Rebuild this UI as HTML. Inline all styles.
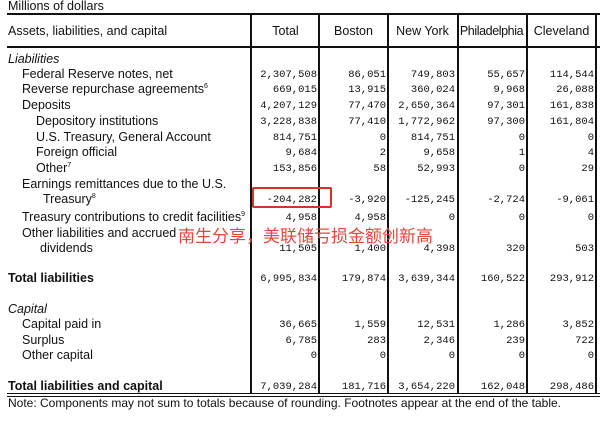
<!DOCTYPE html>
<html><head><meta charset="utf-8">
<style>
body{margin:0;width:600px;height:431px;background:#fff;position:relative;overflow:hidden;font-family:"Liberation Sans",sans-serif;color:#111}
.t{position:absolute;font-size:12.5px;white-space:nowrap;line-height:14px}
.t sup{font-size:7px;line-height:0;position:relative;top:-5px;vertical-align:baseline}
.n{position:absolute;font-family:"Liberation Mono",monospace;font-size:10.5px;text-align:right;width:68px;line-height:14px;white-space:nowrap}
.v{position:absolute;top:14px;width:2px;height:380px;background:#111}
.h{position:absolute;left:7px;width:593px;background:#111}
.hd{position:absolute;top:24px;font-size:12.5px;text-align:center;width:69px}
</style></head><body>
<div class="t" style="left:8px;top:-1px">Millions of dollars</div>
<div class="h" style="top:13px;height:2px"></div>
<div class="h" style="top:46px;height:2px"></div>
<div class="h" style="top:393px;height:1px"></div>
<div class="h" style="top:396px;height:1px"></div>
<div class="t" style="left:8px;top:24px">Assets, liabilities, and capital</div>
<div class="v" style="left:250px"></div>
<div class="v" style="left:318px"></div>
<div class="v" style="left:387px"></div>
<div class="v" style="left:457px"></div>
<div class="v" style="left:526px"></div>
<div class="v" style="left:595px"></div>
<div class="hd" style="left:251px">Total</div>
<div class="hd" style="left:319px">Boston</div>
<div class="hd" style="left:388px">New York</div>
<div class="hd" style="left:457px;letter-spacing:-0.4px">Philadelphia</div>
<div class="hd" style="left:527px">Cleveland</div>
<div id="rows"></div>
<div style="position:absolute;left:252px;top:187px;width:76px;height:17px;border:2px solid #d9302a;border-radius:2px"></div>
<div class="t" style="left:178px;top:227px;font-size:17px;line-height:20px;color:#e0493c;font-family:'Liberation Sans','Noto Sans CJK SC',sans-serif">南生分享，美联储亏损金额创新高</div>
<div class="t" style="left:8px;top:396px;font-size:12px">Note: Components may not sum to totals because of rounding. Footnotes appear at the end of the table.</div>
<script>
const labels=[["Liabilities",8,52,"i"],["Federal Reserve notes, net",22,67],["Reverse repurchase agreements<sup>6</sup>",22,82],["Deposits",22,98],["Depository institutions",36,114],["U.S. Treasury, General Account",36,130],["Foreign official",36,145],["Other<sup>7</sup>",36,161],["Earnings remittances due to the U.S.",22,177],["Treasury<sup>8</sup>",43,192],["Treasury contributions to credit facilities<sup>9</sup>",22,210],["Other liabilities and accrued",22,226],["dividends",40,241],["Total liabilities",8,271,"b"],["Capital",8,302,"i"],["Capital paid in",22,317],["Surplus",22,333],["Other capital",22,348],["Total liabilities and capital",8,379,"b"]];
const rowY=[67,82,98,114,130,145,161,192,210,241,271,317,333,348,379];
const colTotal=["2,307,508","669,015","4,207,129","3,228,838","814,751","9,684","153,856","-204,282","4,958","11,505","6,995,834","36,665","6,785","0","7,039,284"];
const colBoston=["86,051","13,915","77,470","77,410","0","2","58","-3,920","4,958","1,400","179,874","1,559","283","0","181,716"];
const colNY=["749,803","360,024","2,650,364","1,772,962","814,751","9,658","52,993","-125,245","0","4,398","3,639,344","12,531","2,346","0","3,654,220"];
const colPhil=["55,657","9,968","97,301","97,300","0","1","0","-2,724","0","320","160,522","1,286","239","0","162,048"];
const colCleve=["114,544","26,088","161,838","161,804","0","4","29","-9,061","0","503","293,912","3,852","722","0","298,486"];
const cols=[colTotal,colBoston,colNY,colPhil,colCleve];
const colNames=["total","boston","new-york","philadelphia","cleveland"];
const rights=[317,386,455,525,594];
const root=document.getElementById('rows');
labels.forEach(l=>{const d=document.createElement('div');d.className='t';d.style.left=l[1]+'px';d.style.top=l[2]+'px';
if(l[3]=='i')d.style.fontStyle='italic';if(l[3]=='b')d.style.fontWeight='bold';d.innerHTML=l[0];


root.appendChild(d);});
cols.forEach((c,ci)=>c.forEach((v,ri)=>{const d=document.createElement('div');d.className='n';d.textContent=v;d.style.left=(rights[ci]-68)+'px';d.style.top=(rowY[ri]+1)+'px';


root.appendChild(d);}));
</script>
</body></html>
